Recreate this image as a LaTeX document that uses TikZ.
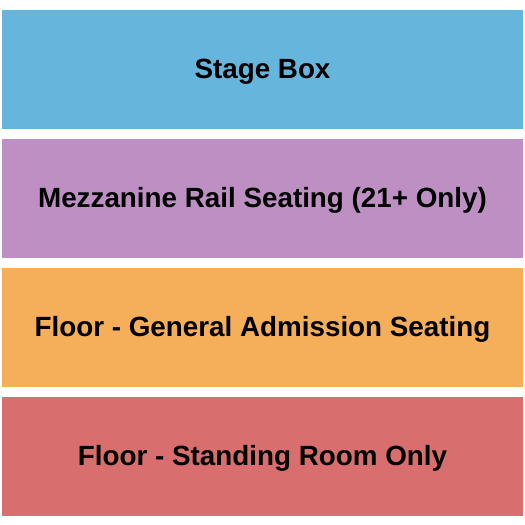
\documentclass[tikz,border=0pt]{standalone}
\usepackage{fontspec}
\setmainfont{Liberation Sans}
\usepackage{tikz}
\usetikzlibrary{positioning}
\definecolor{boxblue}{HTML}{66B5DD}
\definecolor{mezzpurple}{HTML}{BD8FC3}
\definecolor{floororange}{HTML}{F5AE5A}
\definecolor{floorred}{HTML}{D86E6E}
\tikzset{
    %Define style for sections
    section/.style={
           rectangle,
           inner sep=0pt, outer sep=0pt,
           minimum width=521pt,
           minimum height=119pt,
           text height=22pt, text depth=5pt,
           font=\fontsize{27.8}{32}\selectfont\bfseries,
           text=black,
           text centered}
}
\begin{document}
\begin{tikzpicture}[node distance=10pt]
\useasboundingbox (0,0) rectangle (525pt,-525pt);
 %sections
\node[section, fill=boxblue, anchor=north west] (stage) at (2pt,-10pt) {Stage Box};
\node[section, fill=mezzpurple, below = of stage] (mezz) {Mezzanine Rail Seating (21+ Only)};
\node[section, fill=floororange, below = of mezz] (ga) {Floor - General Admission Seating};
\node[section, fill=floorred, below = of ga] (sro) {Floor - Standing Room Only};

\end{tikzpicture}
\end{document}
